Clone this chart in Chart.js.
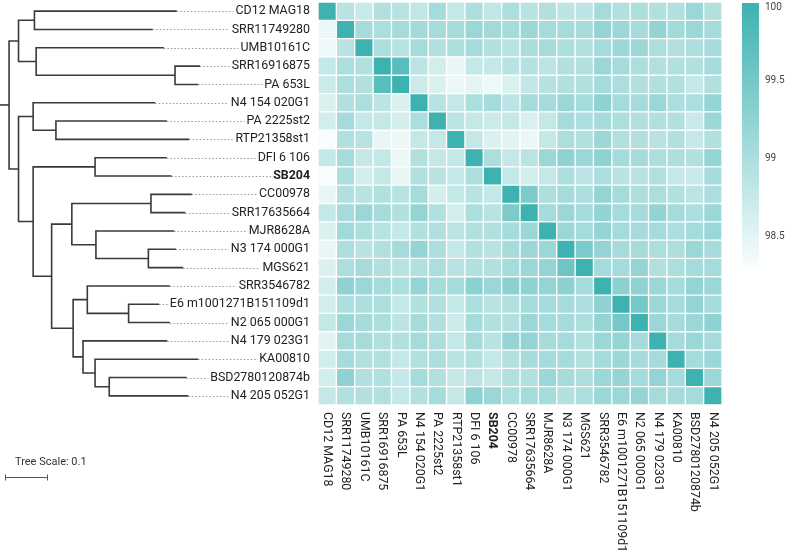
<!DOCTYPE html>
<html>
<head>
<meta charset="utf-8">
<script src="https://cdn.jsdelivr.net/npm/chart.js@4.4.0/dist/chart.umd.min.js"></script>
<style>
  html, body { margin: 0; padding: 0; background: #fff; }
  #wrap { width: 785px; height: 551px; }
</style>
</head>
<body>
<div id="wrap"><canvas id="chart"></canvas></div>
<script>
// genomes, in tree order (rows top to bottom, columns left to right)
const genomes = [
  'CD12 MAG18', 'SRR11749280', 'UMB10161C', 'SRR16916875', 'PA 653L',
  'N4 154 020G1', 'PA 2225st2', 'RTP21358st1', 'DFI 6 106', 'SB204',
  'CC00978', 'SRR17635664', 'MJR8628A', 'N3 174 000G1', 'MGS621',
  'SRR3546782', 'E6 m1001271B151109d1', 'N2 065 000G1', 'N4 179 023G1',
  'KA00810', 'BSD2780120874b', 'N4 205 052G1'
];
const boldLabel = 'SB204';

// ANI (%) one row per genome
const aniRows = [
  [100, 98.89, 98.75, 98.96, 98.89, 98.82, 99.06, 98.79, 99.0, 98.82, 99.0, 98.9, 98.96, 98.86, 98.86, 99.06, 98.96, 99.0, 98.96, 98.96, 99.15, 98.96],
  [98.43, 100, 99.07, 99.0, 99.07, 99.1, 99.07, 99.07, 99.16, 99.1, 99.07, 99.16, 99.07, 99.07, 99.07, 99.22, 99.15, 99.07, 99.24, 99.1, 99.16, 99.07],
  [98.42, 98.89, 100, 99.0, 98.89, 99.07, 98.96, 99.0, 99.07, 98.96, 98.89, 99.02, 99.07, 99.0, 98.96, 99.07, 99.16, 99.16, 99.0, 98.96, 99.0, 99.07],
  [98.79, 99.0, 98.96, 100, 99.76, 98.86, 98.67, 98.45, 98.79, 98.79, 98.89, 98.93, 98.86, 98.96, 98.96, 99.15, 99.07, 99.0, 98.96, 98.96, 98.96, 99.07],
  [98.72, 99.0, 98.96, 99.76, 100, 98.72, 98.58, 98.43, 98.5, 98.42, 98.58, 98.8, 98.92, 98.96, 98.96, 99.07, 99.0, 98.96, 98.96, 98.96, 98.79, 98.96],
  [98.58, 98.96, 99.0, 98.86, 98.58, 100, 98.89, 98.79, 99.0, 99.07, 98.86, 99.07, 99.07, 99.15, 99.07, 99.27, 99.07, 99.07, 99.15, 99.0, 99.0, 99.22],
  [98.67, 99.07, 98.79, 98.79, 98.65, 99.0, 100, 98.86, 98.79, 98.72, 98.79, 98.6, 98.79, 99.07, 99.0, 99.07, 99.0, 98.96, 98.96, 98.96, 98.75, 99.15],
  [98.33, 98.96, 98.89, 98.45, 98.43, 98.79, 98.79, 100, 98.79, 98.58, 98.52, 98.43, 98.79, 99.0, 98.96, 99.15, 98.96, 98.96, 98.89, 98.96, 98.79, 98.96],
  [98.79, 99.07, 98.79, 98.79, 98.43, 98.96, 98.79, 98.79, 100, 99.0, 98.79, 98.88, 99.15, 99.27, 99.15, 99.27, 99.07, 99.07, 99.0, 99.0, 98.96, 99.22],
  [98.33, 99.0, 98.67, 98.79, 98.45, 98.96, 98.89, 98.79, 99.0, 100, 98.79, 98.67, 98.79, 99.0, 98.86, 99.0, 98.89, 98.89, 98.96, 98.79, 98.75, 99.07],
  [98.45, 98.96, 98.89, 98.96, 98.89, 99.07, 98.65, 98.79, 98.89, 98.79, 100, 99.44, 99.0, 99.07, 99.0, 99.22, 99.07, 99.0, 99.0, 98.96, 98.86, 99.0],
  [98.79, 99.07, 99.15, 99.07, 98.96, 99.22, 98.96, 98.67, 99.0, 98.89, 99.44, 100, 99.07, 99.15, 99.07, 99.24, 99.07, 99.07, 99.24, 99.07, 99.0, 99.15],
  [98.58, 99.1, 99.0, 98.89, 98.79, 98.96, 98.96, 98.86, 98.96, 98.96, 99.07, 99.15, 100, 99.15, 99.07, 99.22, 99.07, 99.07, 99.07, 99.0, 99.07, 99.15],
  [98.45, 99.0, 98.89, 98.96, 99.07, 99.22, 99.0, 98.79, 98.96, 98.89, 99.07, 99.15, 99.15, 100, 99.44, 99.22, 99.07, 99.07, 99.0, 99.0, 99.15, 99.07],
  [98.58, 99.0, 99.07, 98.96, 98.89, 98.96, 99.0, 98.89, 98.96, 98.96, 99.07, 99.15, 99.22, 99.57, 100, 99.07, 99.07, 99.22, 98.96, 99.0, 99.07, 99.07],
  [98.67, 99.27, 99.16, 99.07, 99.0, 99.22, 99.07, 99.07, 99.3, 99.15, 99.3, 99.27, 99.22, 99.3, 99.07, 100, 99.3, 99.27, 99.15, 99.07, 99.22, 99.15],
  [98.65, 99.0, 99.0, 99.0, 98.79, 98.96, 98.96, 98.79, 99.0, 98.89, 98.96, 99.07, 99.07, 99.07, 99.0, 99.27, 100, 99.5, 99.15, 99.07, 99.22, 99.07],
  [98.79, 99.15, 99.07, 99.0, 98.86, 99.07, 98.96, 98.72, 99.07, 98.96, 98.96, 99.15, 99.07, 99.07, 99.0, 99.22, 99.5, 100, 99.15, 99.07, 99.15, 99.27],
  [98.52, 99.07, 99.07, 98.96, 98.96, 99.07, 99.0, 98.79, 99.07, 98.89, 99.22, 99.22, 99.07, 99.07, 98.96, 99.15, 99.22, 99.07, 100, 99.07, 99.15, 99.07],
  [98.67, 99.07, 98.96, 98.96, 98.79, 98.96, 99.0, 98.89, 98.96, 98.79, 98.96, 99.04, 99.07, 99.07, 98.96, 99.07, 99.15, 99.07, 99.07, 100, 99.07, 99.15],
  [98.67, 99.27, 98.96, 98.96, 98.79, 99.07, 98.96, 98.79, 98.86, 98.79, 98.96, 98.96, 99.15, 99.07, 99.0, 99.15, 99.22, 99.07, 99.22, 99.07, 100, 99.15],
  [98.79, 98.96, 98.96, 98.96, 98.79, 98.96, 99.07, 98.79, 99.27, 99.15, 99.0, 99.07, 99.07, 98.96, 99.0, 99.15, 99.15, 99.22, 99.07, 99.07, 99.07, 100]
];

// tree: distance from root for each tip, and internal nodes [id, childA, childB, depth]
// (numbers are tip rows, strings are earlier nodes)
const tipDepth = [0.411, 0.355, 0.381, 0.465, 0.461, 0.361, 0.388, 0.440, 0.388, 0.399, 0.446,
                  0.431, 0.405, 0.409, 0.426, 0.395, 0.370, 0.395, 0.389, 0.461, 0.434, 0.438];
const treeNodes = [
  ['n0_1', 0, 1, 0.080],
  ['n3_4', 3, 4, 0.407],
  ['n2_4', 2, 'n3_4', 0.084],
  ['n0_4', 'n0_1', 'n2_4', 0.043],
  ['n6_7', 6, 7, 0.130],
  ['n5_7', 5, 'n6_7', 0.077],
  ['n8_9', 8, 9, 0.221],
  ['n10_11', 10, 11, 0.351],
  ['n13_14', 13, 14, 0.345],
  ['n12_14', 12, 'n13_14', 0.223],
  ['n10_14', 'n10_11', 'n12_14', 0.167],
  ['n16_17', 16, 17, 0.299],
  ['n15_17', 15, 'n16_17', 0.203],
  ['n20_21', 20, 21, 0.254],
  ['n19_21', 19, 'n20_21', 0.221],
  ['n18_21', 18, 'n19_21', 0.193],
  ['n15_21', 'n15_17', 'n18_21', 0.170],
  ['n10_21', 'n10_14', 'n15_21', 0.120],
  ['n8_21', 'n8_9', 'n10_21', 0.077],
  ['n5_21', 'n5_7', 'n8_21', 0.043],
  ['root', 'n0_4', 'n5_21', 0.021]
];
const treeScaleValue = 0.1;

// colour scale
const colorMin = 98.3;
const colorMax = 100;
const colorTicks = [100, 99.5, 99, 98.5];

const lowRGB = [250, 253, 253];
const highRGB = [62, 178, 177];
function aniColor(v) {
  const t = Math.max(0, Math.min(1, (v - colorMin) / (colorMax - colorMin)));
  const c = lowRGB.map((l, i) => Math.round(l + (highRGB[i] - l) * t));
  return 'rgb(' + c.join(',') + ')';
}

const FONT = 'Roboto';
const LABEL_SIZE = 12.4;
const labelFont = name => (name === boldLabel ? 'bold ' : '') + LABEL_SIZE + 'px ' + FONT;

// heatmap: one floating-bar dataset per column
const cellSets = genomes.map((name, j) => ({
  type: 'bar',
  label: name,
  indexAxis: 'y',
  xAxisID: 'x',
  yAxisID: 'y',
  data: genomes.map(() => [j, j + 1]),
  backgroundColor: aniRows.map(row => aniColor(row[j])),
  borderColor: '#fff',
  borderWidth: 1,
  borderSkipped: false,
  barPercentage: 1,
  categoryPercentage: 1,
  grouped: false
}));

// dendrogram: one bracket per internal node
const nodePos = {};
const place = id => (typeof id === 'number' ? { x: tipDepth[id], y: id + 0.5 } : nodePos[id]);
treeNodes.forEach(([id, a, b, depth]) => {
  nodePos[id] = { x: depth, y: (place(a).y + place(b).y) / 2 };
});
const lineStyle = {
  type: 'line',
  xAxisID: 'xt',
  yAxisID: 'yt',
  borderColor: '#3a3a3a',
  borderWidth: 1.6,
  pointRadius: 0,
  tension: 0,
  clip: false,
  fill: false
};
const treeSets = treeNodes.map(([id, a, b, depth]) => {
  const pa = place(a), pb = place(b);
  return Object.assign({ label: id, data: [pa, { x: depth, y: pa.y }, { x: depth, y: pb.y }, pb] }, lineStyle);
});
const rootPos = nodePos['root'];
treeSets.push(Object.assign({ label: 'stub', data: [rootPos, { x: 0, y: rootPos.y }] }, lineStyle));

const extras = {
  id: 'extras',
  beforeDatasetsDraw(chart) {
    // dotted leaders from tips to labels
    const { ctx } = chart;
    const xt = chart.scales.xt, yt = chart.scales.yt, ys = chart.scales.y;
    ctx.save();
    ctx.strokeStyle = '#9a9a9a';
    ctx.lineWidth = 1;
    ctx.setLineDash([1.5, 2]);
    genomes.forEach((name, i) => {
      ctx.font = labelFont(name);
      const w = ctx.measureText(name).width;
      const x0 = xt.getPixelForValue(tipDepth[i]);
      const x1 = ys.right - 8 - w - 2;
      const y = Math.round(yt.getPixelForValue(i + 0.5)) + 0.5;
      ctx.beginPath();
      ctx.moveTo(x0, y);
      ctx.lineTo(x1, y);
      ctx.stroke();
    });
    ctx.restore();
  },
  afterDraw(chart) {
    const { ctx, chartArea } = chart;
    const xs = chart.scales.x, xt = chart.scales.xt;
    ctx.save();
    // column labels, rotated
    ctx.fillStyle = '#222';
    ctx.textAlign = 'left';
    ctx.textBaseline = 'middle';
    genomes.forEach((name, j) => {
      ctx.save();
      ctx.translate(xs.getPixelForValue(j + 0.5), chartArea.bottom + 7);
      ctx.rotate(Math.PI / 2);
      ctx.font = labelFont(name);
      ctx.fillText(name, 0, 0);
      ctx.restore();
    });

    // colour bar
    const cbL = 742, cbW = 17, cbT = 3, cbB = 268;
    const g = ctx.createLinearGradient(0, cbT, 0, cbB);
    g.addColorStop(0, aniColor(colorMax));
    g.addColorStop(1, aniColor(colorMin));
    ctx.fillStyle = g;
    ctx.fillRect(cbL, cbT, cbW, cbB - cbT);
    ctx.fillStyle = '#444';
    ctx.font = '10px ' + FONT;
    colorTicks.forEach(v => {
      const y = cbT + (colorMax - v) / (colorMax - colorMin) * (cbB - cbT);
      ctx.fillText(String(v), cbL + cbW + 6, Math.max(y, 7));
    });

    // tree scale
    ctx.fillStyle = '#333';
    ctx.font = '11px ' + FONT;
    ctx.fillText('Tree Scale: ' + treeScaleValue, 15, 462);
    const bx0 = 5;
    const bx1 = bx0 + xt.getPixelForValue(treeScaleValue) - xt.getPixelForValue(0);
    const by = 477.5;
    ctx.strokeStyle = '#555';
    ctx.lineWidth = 1;
    ctx.beginPath();
    ctx.moveTo(bx0, by); ctx.lineTo(bx1, by);
    ctx.moveTo(bx0 + 0.5, by - 3); ctx.lineTo(bx0 + 0.5, by + 3);
    ctx.moveTo(bx1 - 0.5, by - 3); ctx.lineTo(bx1 - 0.5, by + 3);
    ctx.stroke();
    ctx.restore();
  }
};

new Chart(document.getElementById('chart'), {
  type: 'bar',
  data: { labels: genomes, datasets: cellSets.concat(treeSets) },
  plugins: [extras],
  options: {
    responsive: true,
    maintainAspectRatio: false,
    animation: false,
    layout: { padding: { top: 2, right: 63, bottom: 146, left: 0 } },
    plugins: { legend: { display: false }, tooltip: { enabled: false } },
    scales: {
      x: { type: 'linear', axis: 'x', position: 'bottom', min: 0, max: genomes.length, offset: false, display: false },
      y: {
        type: 'category', axis: 'y', position: 'left', offset: true,
        grid: { display: false, drawTicks: false },
        border: { display: false },
        ticks: {
          autoSkip: false, padding: 8, color: '#222',
          font: c => ({ family: FONT, size: LABEL_SIZE, weight: c.tick && c.tick.label === boldLabel ? 'bold' : 'normal' })
        },
        afterFit: s => { s.width = 318; s.paddingTop = 0; s.paddingBottom = 0; }
      },
      // tree distance axis: 430 px per unit, root at the left edge of the page
      xt: { type: 'linear', axis: 'x', position: 'bottom', min: 0.7395, max: 1.6791, offset: false, display: false },
      yt: { type: 'linear', axis: 'y', position: 'left', min: 0, max: genomes.length, reverse: true, offset: false, display: false }
    }
  }
});
</script>
</body>
</html>
